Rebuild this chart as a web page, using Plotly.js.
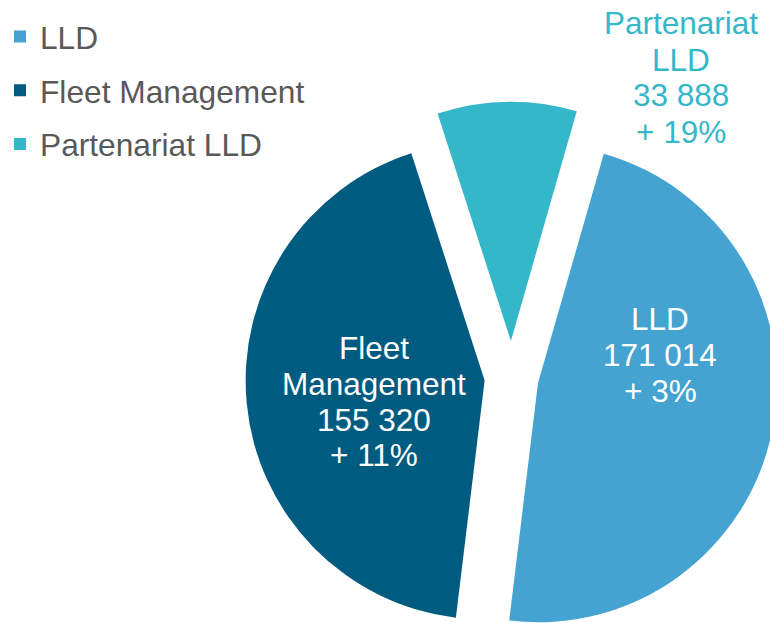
<!DOCTYPE html>
<html>
<head>
<meta charset="utf-8">
<script src="https://cdn.plot.ly/plotly-3.0.1.min.js"></script>
<style>
  html, body { margin: 0; padding: 0; overflow: hidden; background: #fff; }
  #chart { width: 800px; height: 680px; }
</style>
</head>
<body>
<div id="chart"></div>
<script>
// Répartition du parc par activité
const categories = ['LLD', 'Fleet Management', 'Partenariat LLD'];
const volumes = [171014, 155320, 33888];
const growthPct = [3, 11, 19];

const COLORS = ['#44a3d0', '#005b80', '#34b7c9'];
const TEXT_COLORS = ['#ffffff', '#ffffff', '#34b7c9'];
const FONT = 'Liberation Sans, Arial, sans-serif';

// figure is a bit larger than the window, the pie runs off the right/bottom edge
const W = 800, H = 680;
const px = v => v / W;
const py = v => 1 - v / H;

// label anchor (centre x, middle of first line) in pixels, one per slice
const LABEL_POS = [[660, 319], [374, 347.5], [681, 23.5]];
const LINE_STEP = 36;

function fmt(n) {
  return String(n).replace(/\B(?=(\d{3})+(?!\d))/g, ' ');
}

const annotations = [];
categories.forEach((c, i) => {
  const lines = c.split(' ').concat([fmt(volumes[i]), '+ ' + growthPct[i] + '%']);
  lines.forEach((t, k) => {
    annotations.push({
      xref: 'paper', yref: 'paper',
      x: px(LABEL_POS[i][0]), y: py(LABEL_POS[i][1] + k * LINE_STEP),
      xanchor: 'center', yanchor: 'middle',
      text: t, showarrow: false,
      font: { family: FONT, size: 31.5, color: TEXT_COLORS[i] }
    });
  });
});

const pie = {
  type: 'pie',
  labels: categories,
  values: volumes,
  sort: false,
  direction: 'clockwise',
  rotation: 16,
  pull: [0.113, 0.113, 0.155],
  marker: { colors: COLORS, line: { width: 0 } },
  textinfo: 'none',
  hoverinfo: 'label+value',
  showlegend: false,
  domain: { x: [px(235.5), px(787.5)], y: [py(654), py(102)] }
};

// legend entries (one group each so the rows can be spaced out)
const legendTraces = categories.map((c, i) => ({
  type: 'scatter', mode: 'markers',
  x: [null], y: [null],
  name: c, legendgroup: 'g' + i,
  marker: { symbol: 'square', size: 12, color: COLORS[i] },
  hoverinfo: 'skip'
}));

const layout = {
  width: W, height: H,
  margin: { t: 0, b: 0, l: 0, r: 0 },
  paper_bgcolor: '#ffffff',
  plot_bgcolor: '#ffffff',
  font: { family: FONT, color: '#595959' },
  xaxis: { visible: false },
  yaxis: { visible: false },
  showlegend: true,
  legend: {
    x: 0, y: py(9.5), xanchor: 'left', yanchor: 'top',
    bgcolor: 'rgba(0,0,0,0)',
    font: { family: FONT, size: 31.7, color: '#595959' },
    tracegroupgap: 9.5
  },
  annotations: annotations
};

Plotly.newPlot('chart', [pie].concat(legendTraces), layout, { displayModeBar: false, staticPlot: true });
</script>
</body>
</html>
